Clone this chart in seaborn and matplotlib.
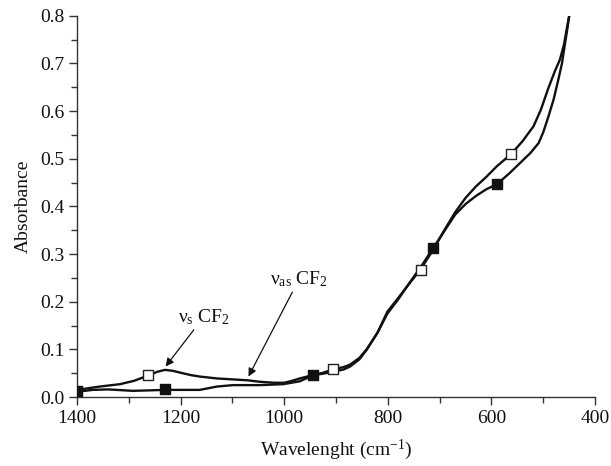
import numpy as np
import pandas as pd
import matplotlib
matplotlib.use("Agg")
import matplotlib.pyplot as plt
import seaborn as sns
from matplotlib.ticker import MultipleLocator

# Spectrum with open squares (upper curve at 1250 cm-1)
wave_a = [1400, 1375, 1356, 1317, 1290, 1263, 1245, 1230, 1215, 1200, 1180, 1163,
          1130, 1099, 1070, 1047, 1020, 1000, 985, 970, 945, 925, 906, 885, 873,
          855, 841, 820, 801, 780, 760, 737, 713, 690, 670, 650, 630, 610, 590,
          562, 540, 519, 505, 490, 478, 468, 460, 455, 450]
abs_a = [0.015, 0.019, 0.022, 0.027, 0.034, 0.045, 0.053, 0.057, 0.055, 0.051, 0.046, 0.043,
         0.039, 0.037, 0.035, 0.032, 0.030, 0.030, 0.034, 0.039, 0.046, 0.051, 0.058, 0.063, 0.068,
         0.082, 0.100, 0.135, 0.179, 0.208, 0.236, 0.268, 0.308, 0.352, 0.388, 0.418, 0.442, 0.462, 0.484,
         0.510, 0.537, 0.568, 0.602, 0.649, 0.683, 0.708, 0.740, 0.771, 0.800]

# Spectrum with filled squares
wave_b = [1400, 1370, 1340, 1292, 1260, 1230, 1195, 1163, 1130, 1099, 1047, 1002,
          970, 944, 925, 906, 885, 873, 855, 841, 820, 801, 780, 760, 737, 713,
          690, 670, 650, 630, 610, 589, 565, 545, 525, 509, 500, 490, 480, 471,
          464, 458, 454, 450]
abs_b = [0.011, 0.015, 0.016, 0.013, 0.014, 0.015, 0.015, 0.015, 0.022, 0.025, 0.025, 0.027,
         0.033, 0.046, 0.049, 0.053, 0.058, 0.064, 0.079, 0.099, 0.135, 0.175, 0.205, 0.237, 0.272, 0.312,
         0.350, 0.383, 0.405, 0.422, 0.436, 0.447, 0.470, 0.491, 0.512, 0.533, 0.556, 0.589, 0.625, 0.666,
         0.700, 0.743, 0.770, 0.800]

# marker positions
mark_a_w = [1263, 906, 737, 562]
mark_a_y = [0.046, 0.058, 0.267, 0.510]
mark_b_w = [1400, 1230, 944, 713, 589]
mark_b_y = [0.012, 0.017, 0.046, 0.312, 0.447]

sns.set_theme(style="ticks")
plt.rcParams['font.family'] = ['Liberation Serif', 'DejaVu Serif']
plt.rcParams['mathtext.fontset'] = 'custom'
plt.rcParams['mathtext.rm'] = 'Liberation Serif'
plt.rcParams['mathtext.it'] = 'Liberation Serif:italic'

fig, ax = plt.subplots(figsize=(6.11, 4.66), dpi=100)
fig.subplots_adjust(left=0.126, right=0.974, bottom=0.148, top=0.966)

df_a = pd.DataFrame({"w": wave_a, "a": abs_a})
df_b = pd.DataFrame({"w": wave_b, "a": abs_b})
sns.lineplot(data=df_a, x="w", y="a", sort=False, color="#111111", lw=1.7, ax=ax)
sns.lineplot(data=df_b, x="w", y="a", sort=False, color="#111111", lw=1.7, ax=ax)

sns.scatterplot(x=mark_a_w, y=mark_a_y, marker="s", s=62, color="white",
                edgecolor="#222222", linewidth=1.0, zorder=5, ax=ax)
sns.scatterplot(x=mark_b_w, y=mark_b_y, marker="s", s=62, color="#111111",
                edgecolor="#111111", linewidth=1.0, zorder=5, ax=ax)

ax.set_xlim(1400, 400)
ax.set_ylim(0, 0.8)
ax.xaxis.set_minor_locator(MultipleLocator(100))
ax.yaxis.set_minor_locator(MultipleLocator(0.05))
ax.set_xticks([1400, 1200, 1000, 800, 600, 400])
ax.set_xticklabels(["1400", "1200", "1000", "800", "600", "400"])
ax.set_yticks([0.0, 0.1, 0.2, 0.3, 0.4, 0.5, 0.6, 0.7, 0.8])
ax.set_yticklabels(["0.0", "0.1", "0.2", "0.3", "0.4", "0.5", "0.6", "0.7", "0.8"])

ax.tick_params(axis="both", which="major", direction="out", length=6, width=1,
               labelsize=14, color="#333333", labelcolor="#111111", pad=3)
ax.tick_params(axis="both", which="minor", direction="out", length=4, width=1,
               color="#333333")
for side in ["top", "right"]:
    ax.spines[side].set_visible(False)
for side in ["left", "bottom"]:
    ax.spines[side].set_color("#333333")
    ax.spines[side].set_linewidth(1.0)

ax.set_xlabel("Wavelenght (cm$^{\\mathregular{-1}}$)", fontsize=14, color="#111111", labelpad=8)
ax.set_ylabel("Absorbance", fontsize=14, color="#111111", labelpad=6)

ax.annotate("ν$_{\\mathregular{s}}$ CF$_{\\mathregular{2}}$", xy=(1229, 0.064), xytext=(1205, 0.148),
            fontsize=14, color="#111111",
            arrowprops=dict(arrowstyle="-|>", color="#111111", lw=0.9,
                            shrinkA=0, shrinkB=0, mutation_scale=12),
            ha="left", va="bottom")
ax.annotate("ν$_{\\mathregular{as}}$ CF$_{\\mathregular{2}}$", xy=(1069, 0.043), xytext=(1027, 0.227),
            fontsize=14, color="#111111",
            arrowprops=dict(arrowstyle="-|>", color="#111111", lw=0.9,
                            shrinkA=0, shrinkB=0, mutation_scale=12),
            ha="left", va="bottom")

fig.savefig("out.png", dpi=100)
